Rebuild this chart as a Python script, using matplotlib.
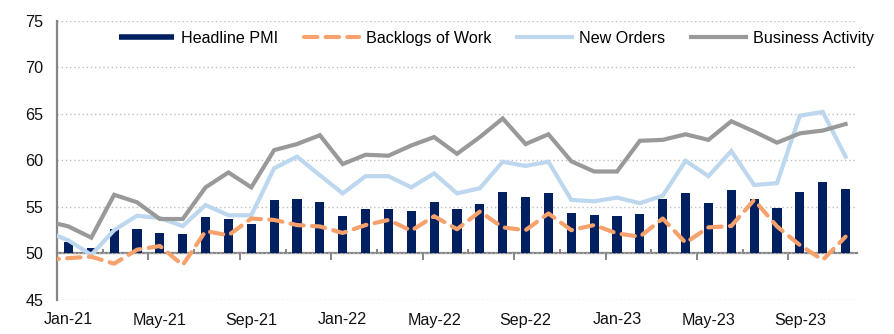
import numpy as np
import pandas as pd
import matplotlib
matplotlib.use('Agg')
import matplotlib.pyplot as plt
from matplotlib.lines import Line2D
from matplotlib.ticker import FixedLocator

plt.rcParams['font.family'] = ['Liberation Sans', 'DejaVu Sans']

# monthly survey readings
months = pd.date_range('2021-01', '2023-11', freq='MS')
headline = [51.2, 50.6, 52.6, 52.6, 52.2, 52.1, 53.9, 53.7, 53.2, 55.7, 55.9, 55.5,
            54.0, 54.8, 54.8, 54.6, 55.5, 54.8, 55.3, 56.6, 56.1, 56.5, 54.3, 54.1,
            54.0, 54.2, 55.8, 56.5, 55.4, 56.8, 55.9, 54.9, 56.6, 57.7, 56.9]

# sub-indices start one month earlier (Dec-20), cut off at the left axis
line_months = pd.date_range('2020-12', '2023-11', freq='MS')
backlogs = [49.3,
            49.5, 49.65, 48.9, 50.4, 50.8, 48.75, 52.4, 51.95, 53.75, 53.6, 53.05, 52.9,
            52.2, 53.05, 53.6, 52.45, 54.0, 52.6, 54.5, 52.8, 52.5, 54.3, 52.5, 53.05,
            52.15, 51.8, 53.75, 51.15, 52.8, 52.95, 55.75, 52.9, 50.9, 49.3, 51.8]
new_orders = [52.4,
              51.4, 49.85, 52.5, 54.05, 53.8, 52.95, 55.2, 54.1, 54.1, 59.15, 60.4, 58.4,
              56.45, 58.3, 58.3, 57.1, 58.6, 56.45, 57.0, 59.85, 59.4, 59.85, 55.75, 55.6,
              56.0, 55.4, 56.2, 59.95, 58.3, 61.0, 57.35, 57.55, 64.8, 65.2, 60.4]
business = [53.5,
            52.9, 51.7, 56.3, 55.5, 53.7, 53.7, 57.1, 58.7, 57.1, 61.1, 61.75, 62.7,
            59.6, 60.6, 60.5, 61.6, 62.5, 60.7, 62.5, 64.5, 61.75, 62.8, 59.9, 58.8,
            58.8, 62.1, 62.2, 62.8, 62.2, 64.2, 63.1, 61.9, 62.9, 63.2, 63.9]

tick_labels = ['Jan-21', 'May-21', 'Sep-21', 'Jan-22', 'May-22', 'Sep-22',
               'Jan-23', 'May-23', 'Sep-23']
yticks = [45, 50, 55, 60, 65, 70, 75]
base = 50

NAVY = '#002060'
ORANGE = '#F7A26C'
LBLUE = '#BDD7EE'
GREY = '#999999'
AXIS = '#868686'

x = np.arange(len(months))
xl = np.arange(len(line_months)) - 1

fig = plt.figure(figsize=(8.95, 3.34), dpi=100)
ax = fig.add_axes([57 / 895, 1 - 300 / 334, 800 / 895, 279.3 / 334])

ax.bar(x, np.array(headline) - base, bottom=base, width=0.4, color=NAVY, zorder=2)
ax.plot(xl, new_orders, color=LBLUE, lw=3, solid_joinstyle='miter', zorder=3)
ax.plot(xl, business, color=GREY, lw=3, solid_joinstyle='miter', zorder=4)
ax.plot(xl, backlogs, color=ORANGE, lw=3, dashes=(3.2, 2.0),
        dash_capstyle='round', zorder=5)

ax.set_xlim(-0.5, len(months) - 0.5)
ax.set_ylim(yticks[0], yticks[-1])
ax.set_yticks(yticks)
ax.yaxis.grid(True, linestyle=(0, (1, 2)), color='#BFBFBF', lw=1, zorder=0)
ax.set_axisbelow(True)

# category labels every four months
ax.set_xticks(x[::4], tick_labels)
ax.tick_params(axis='x', length=0, pad=9, labelsize=11.6, labelcolor='#111111')
ax.tick_params(axis='y', length=0, pad=10, labelsize=11.6, labelcolor='#111111')

for s in ['top', 'right', 'bottom']:
    ax.spines[s].set_visible(False)
ax.spines['left'].set_color(AXIS)
ax.spines['left'].set_linewidth(1.6)

# horizontal axis line crossing at 50 with tick marks between categories
sec = ax.secondary_xaxis((base - yticks[0]) / (yticks[-1] - yticks[0]))
sec.xaxis.set_major_locator(FixedLocator(np.arange(3.5, len(months), 4)))
sec.xaxis.set_minor_locator(FixedLocator(np.arange(1.5, len(months), 4)))
sec.tick_params(axis='x', which='major', direction='out', length=5, width=1.4,
                color=AXIS, labelbottom=False, labeltop=False)
sec.tick_params(axis='x', which='minor', direction='in', length=3, width=1.4,
                color=AXIS, labelbottom=False, labeltop=False)
for s in sec.spines.values():
    s.set_color(AXIS)
    s.set_linewidth(1.6)

handles = [
    Line2D([], [], color=NAVY, lw=4, solid_capstyle='butt'),
    Line2D([], [], color=ORANGE, lw=3, dashes=(3.2, 2.0), dash_capstyle='round'),
    Line2D([], [], color=LBLUE, lw=3),
    Line2D([], [], color=GREY, lw=3),
]
labels = ['Headline PMI', 'Backlogs of Work', 'New Orders', 'Business Activity']
fig.legend(handles, labels, loc='center', bbox_to_anchor=(0.555, 0.886), ncol=4,
           frameon=False, fontsize=11.6, handlelength=3.4, handletextpad=0.45,
           columnspacing=1.6, borderpad=0)

fig.savefig('out.png', dpi=100)
